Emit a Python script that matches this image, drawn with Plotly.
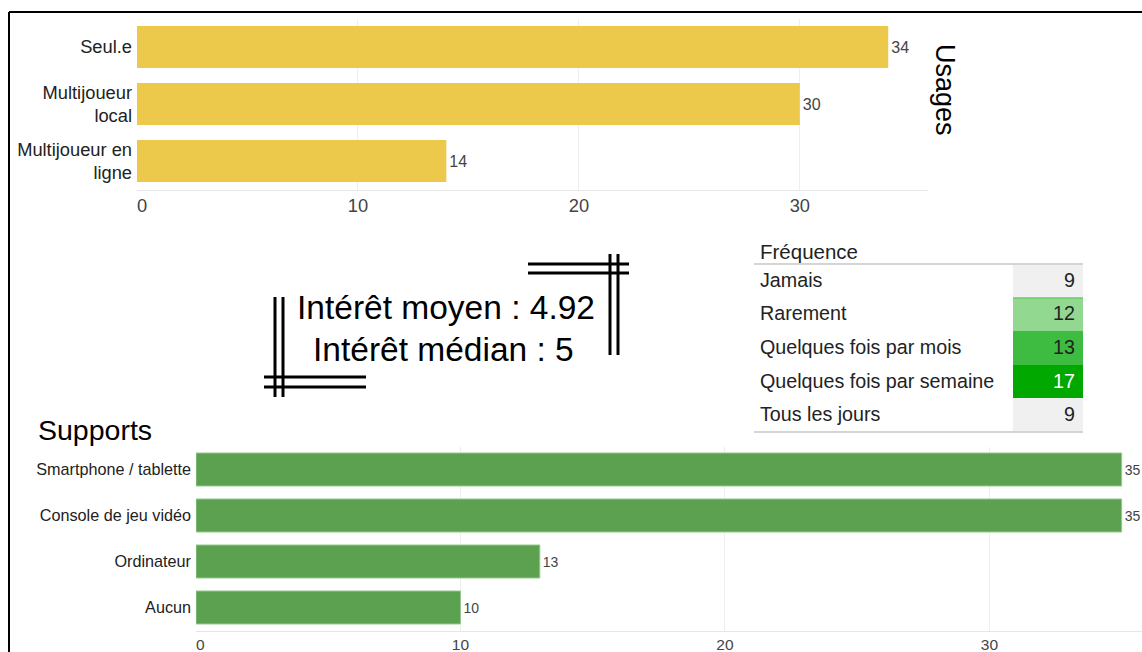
import plotly.graph_objects as go

W, H = 1142, 652
FONT = "Liberation Sans, Arial, sans-serif"

# ---- data ----
usage_labels = ["Seul.e", "Multijoueur<br>local", "Multijoueur en<br>ligne"]
usage_values = [34, 30, 14]

support_labels = ["Smartphone / tablette", "Console de jeu vidéo", "Ordinateur", "Aucun"]
support_values = [35, 35, 13, 10]

freq_labels = ["Jamais", "Rarement", "Quelques fois par mois",
               "Quelques fois par semaine", "Tous les jours"]
freq_values = [9, 12, 13, 17, 9]

x_ticks = [0, 10, 20, 30]
x_ticktext = ["\u00a0\u00a00", "10", "20", "30"]

interet_moyen = 4.92
interet_median = 5


def px(x):
    return x / W


def py(y):
    return 1 - y / H


fig = go.Figure()

# top bar chart: Usages
fig.add_trace(go.Bar(
    x=usage_values, y=usage_labels, orientation="h",
    marker=dict(color="#ECC94B", line=dict(width=0)),
    width=0.737,
    text=usage_values, textposition="outside", cliponaxis=False,
    textfont=dict(size=16, color="#444", family=FONT),
    xaxis="x", yaxis="y", showlegend=False, hoverinfo="x+y",
))

# bottom bar chart: Supports
fig.add_trace(go.Bar(
    x=support_values, y=support_labels, orientation="h",
    marker=dict(color="#5BA150", line=dict(width=1, color="#94C98D")),
    width=0.717,
    text=support_values, textposition="outside", cliponaxis=False,
    textfont=dict(size=14, color="#444", family=FONT),
    xaxis="x2", yaxis="y2", showlegend=False, hoverinfo="x+y",
))

# frequency table
val_fill = ["#F0F0F0", "#93D891", "#3EBC42", "#00A800", "#F0F0F0"]
val_font = ["#222", "#222", "#222", "#FFFFFF", "#222"]
fig.add_trace(go.Table(
    domain=dict(x=[px(752), px(1083)], y=[py(440), py(236)]),
    columnwidth=[261, 70],
    header=dict(values=["Fréquence", ""], height=28,
                fill=dict(color="white"),
                line=dict(color="rgba(0,0,0,0)", width=0),
                align=["left", "right"],
                font=dict(size=20.5, color="#222", family=FONT)),
    cells=dict(values=[freq_labels, freq_values], height=33.6,
               fill=dict(color=[["white"] * 5, val_fill]),
               line=dict(color="rgba(0,0,0,0)", width=0),
               align=["left", "right"],
               font=dict(size=19.7, color=[["#222"] * 5, val_font], family=FONT)),
))

axis_common = dict(showgrid=True, gridcolor="#EEEEEE", gridwidth=1,
                   zeroline=False, showline=True, linecolor="#E6E6E6",
                   ticks="", automargin=False, fixedrange=True,
                   tickvals=x_ticks, ticktext=x_ticktext)

fig.update_layout(
    width=W, height=H,
    margin=dict(l=0, r=0, t=0, b=0),
    paper_bgcolor="white", plot_bgcolor="white",
    template="none",
    font=dict(family=FONT, color="#222"),
    xaxis=dict(domain=[px(137), px(928)], range=[0, 35.8], anchor="y",
               tickfont=dict(size=18.3, color="#444"), **axis_common),
    yaxis=dict(domain=[py(189.5), py(18.5)], anchor="x", autorange="reversed",
               showgrid=False, zeroline=False, showline=False, ticks="",
               automargin=False, ticklabelstandoff=4,
               tickfont=dict(size=18.3, color="#222")),
    xaxis2=dict(domain=[px(196), 1], range=[0, 35.77], anchor="y2", ticklen=1,
                tickfont=dict(size=15.5, color="#444"), **axis_common),
    yaxis2=dict(domain=[py(630.5), py(446.5)], anchor="x2", autorange="reversed",
                showgrid=False, zeroline=False, showline=False, ticks="",
                automargin=False, ticklabelstandoff=4,
                tickfont=dict(size=16.2, color="#222")),
)

annotations = [
    dict(text="Usages", x=px(945), y=py(90), textangle=90, showarrow=False,
         font=dict(size=27, color="#000"), xanchor="center", yanchor="middle"),
    dict(text="Supports", x=px(36), y=py(430), showarrow=False,
         font=dict(size=28.5, color="#000"), xanchor="left", yanchor="middle"),
    dict(text=f"Intérêt moyen : {interet_moyen}", x=px(446), y=py(307),
         showarrow=False, font=dict(size=33.5, color="#000"),
         xanchor="center", yanchor="middle"),
    dict(text=f"Intérêt médian : {interet_median}", x=px(443), y=py(349),
         showarrow=False, font=dict(size=33.5, color="#000"),
         xanchor="center", yanchor="middle"),
]
for a in annotations:
    a.update(xref="paper", yref="paper")
    a["font"]["family"] = FONT
fig.update_layout(annotations=annotations)


def line(x0, y0, x1, y1, color="#000", width=3):
    return dict(type="line", xref="paper", yref="paper",
                x0=px(x0), y0=py(y0), x1=px(x1), y1=py(y1),
                line=dict(color=color, width=width))


shapes = [
    # frame
    line(9, 12, W + 5, 12, width=2),
    line(9, 12, 9, H + 5, width=2),
    # decorative corners
    line(528, 264, 629, 264), line(528, 273, 629, 273),
    line(610, 254, 610, 355), line(618, 254, 618, 355),
    line(275, 297, 275, 397), line(283, 297, 283, 397),
    line(264, 377, 366, 377), line(264, 387, 366, 387),
    # table rules
    line(754, 264, 1083, 264, color="#D4D4D4", width=2),
    line(754, 432, 1083, 432, color="#D4D4D4", width=2),
    line(1013, 298, 1083, 298, color="#6CCB68", width=1.5),
]
fig.update_layout(shapes=shapes)

fig.write_html("out.html")
